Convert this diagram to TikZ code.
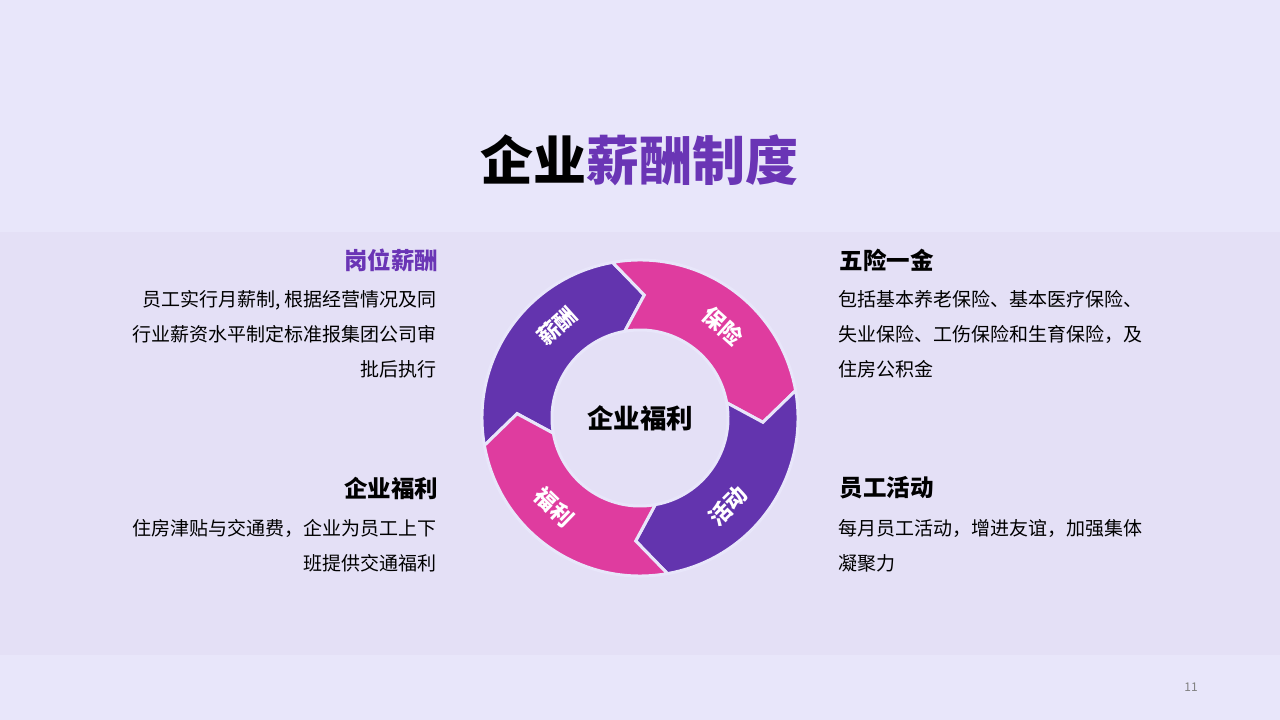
\documentclass[tikz,border=0pt]{standalone}
\usepackage{fontspec}
\setmainfont{Noto Sans CJK SC}
\definecolor{bg}{HTML}{E8E6FA}
\definecolor{band}{HTML}{E4E0F6}
\definecolor{violet}{HTML}{6334AE}
\definecolor{rose}{HTML}{DF3C9F}
\definecolor{titleviolet}{HTML}{6A35B5}
\tikzset{
    heading/.style={font=\fontsize{23.5}{26}\selectfont\bfseries},
    body/.style={font=\fontsize{19}{35}\selectfont, inner sep=0pt},
    seglabel/.style={text=white, inner sep=0pt, font=\fontsize{22}{24}\selectfont\bfseries}
}
\newcommand\ringseg[2]{%
    \fill[#2, draw=bg, line width=3pt] (#1:158) arc (#1:#1-90:158) -- (#1-102:123)
        -- (#1-90:88) arc (#1-90:#1:88) -- (#1-12:123) -- cycle;}
\begin{document}
\begin{tikzpicture}[x=1pt,y=1pt]
    \fill[bg] (0,0) rectangle (1280,720);
    \fill[band] (0,65) rectangle (1280,488);
    \useasboundingbox (0,0) rectangle (1280,720);
    \node (title) at (639,560) {\fontsize{53}{58}\selectfont\bfseries 企业\textcolor{titleviolet}{薪酬制度}};
    % ring
    \begin{scope}[shift={(640,302)}]
        \ringseg{190}{violet}
        \ringseg{100}{rose}
        \ringseg{10}{violet}
        \ringseg{-80}{rose}
        \node[seglabel, rotate=42] (xinchou) at (132:124) {薪酬};
        \node[seglabel, rotate=-42] (baoxian) at (48:124) {保险};
        \node[seglabel, rotate=45] (huodong) at (-45:124) {活动};
        \node[seglabel, rotate=-44] (fuli) at (-134:124) {福利};
        \node[font=\fontsize{26.5}{30}\selectfont\bfseries] (centre) at (0,0) {企业福利};
    \end{scope}
    % left
    \node[heading, text=titleviolet, anchor=east] (gangwei) at (442,460) {岗位薪酬};
    \node[body, align=right, anchor=north east] (gangweitext) at (437,430)
        {员工实行月薪制, 根据经营情况及同\\行业薪资水平制定标准报集团公司审\\批后执行};
    \node[heading, anchor=east] (qiye) at (442,232) {企业福利};
    \node[body, align=right, anchor=north east] (qiyetext) at (437,201)
        {住房津贴与交通费，企业为员工上下\\班提供交通福利};
    % right
    \node[heading, anchor=west] (wuxian) at (836,460) {五险一金};
    \node[body, align=left, anchor=north west] (wuxiantext) at (838,430)
        {包括基本养老保险、基本医疗保险、\\失业保险、工伤保险和生育保险，及\\住房公积金};
    \node[heading, anchor=west] (yuangong) at (836,232) {员工活动};
    \node[body, align=left, anchor=north west] (yuangongtext) at (838,201)
        {每月员工活动，增进友谊，加强集体\\凝聚力};
    \node[text=gray, font=\fontsize{12}{14}\selectfont] (page) at (1191,33) {11};
\end{tikzpicture}
\end{document}
